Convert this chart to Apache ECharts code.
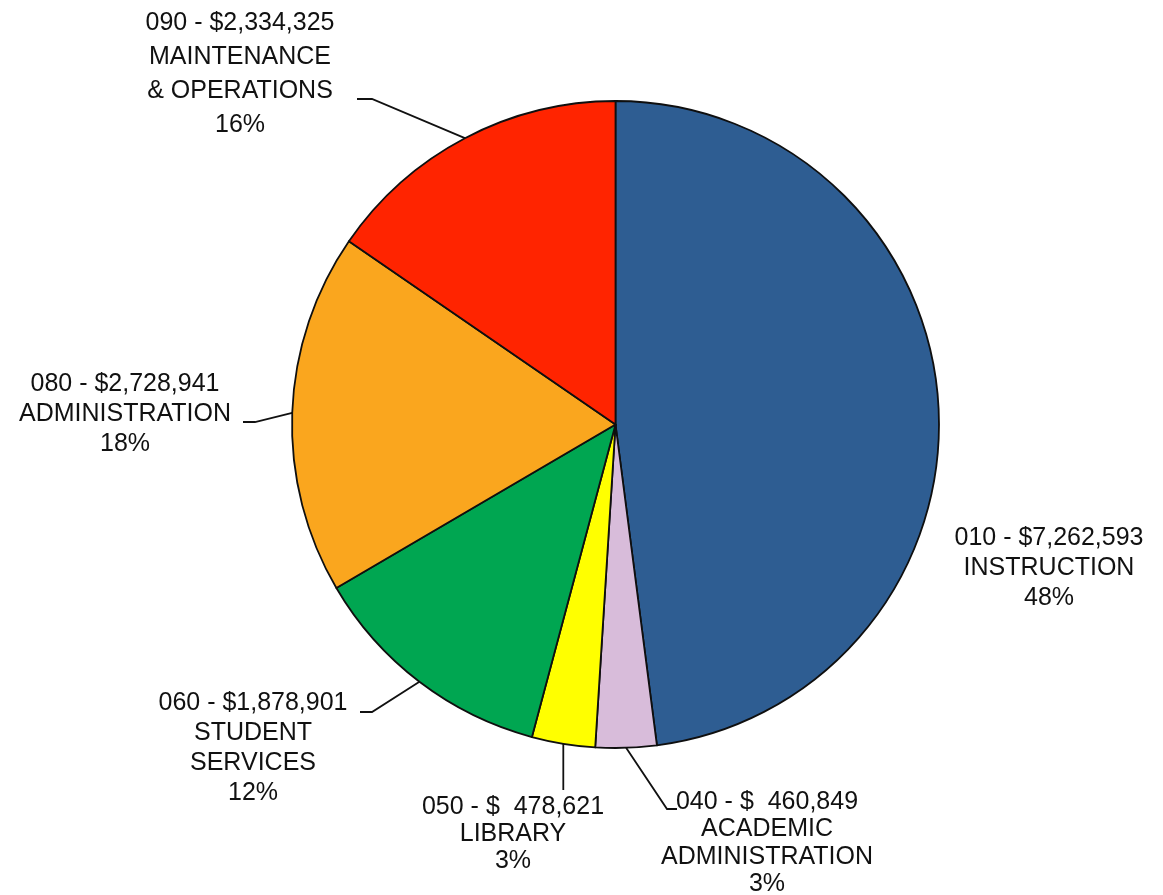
<!DOCTYPE html>
<html>
<head>
<meta charset="utf-8">
<script src="https://cdn.jsdelivr.net/npm/echarts@6/dist/echarts.min.js"></script>
<style>
  html, body { margin: 0; padding: 0; background: #ffffff; }
  #chart { width: 1163px; height: 895px; }
</style>
</head>
<body>
<div id="chart"></div>
<script>
// Budget by function code
const codes   = ['010', '040', '050', '060', '080', '090'];
const names   = ['INSTRUCTION', 'ACADEMIC\nADMINISTRATION', 'LIBRARY', 'STUDENT\nSERVICES', 'ADMINISTRATION', 'MAINTENANCE\n& OPERATIONS'];
const amounts = [7262593, 460849, 478621, 1878901, 2728941, 2334325];
const shares  = [48, 3, 3, 12, 18, 16];
const colors  = ['#2E5D92', '#D8BCDA', '#FFFF00', '#00A651', '#FAA61E', '#FF2400'];

// Where each label block sits, its line spacing and how its leader bends
const labelSpots = [
  { x: 1049, y: 568, lh: 30 },
  { x: 767,  y: 843, lh: 27.5, bend: [667, 809], end: [677, 809] },
  { x: 513,  y: 834, lh: 27,   drop: 790 },
  { x: 253,  y: 748, lh: 30,   bend: [372, 712], end: [360, 712] },
  { x: 125,  y: 414, lh: 30,   bend: [255, 422], end: [243, 422] },
  { x: 240,  y: 74,  lh: 34,   bend: [372, 99],  end: [357, 99] }
];

function money(v) {
  return '$' + v.toLocaleString('en-US').padStart(9, ' ');
}

const seriesData = amounts.map(function (v, i) {
  return {
    value: v,
    name: codes[i] + ' - ' + money(v) + '\n' + names[i] + '\n' + shares[i] + '%',
    itemStyle: { color: colors[i] },
    label: { lineHeight: labelSpots[i].lh },
    labelLine: { show: !!(labelSpots[i].bend || labelSpots[i].drop) }
  };
});

const chart = echarts.init(document.getElementById('chart'), null, { renderer: 'canvas' });
chart.setOption({
  backgroundColor: '#ffffff',
  animation: false,
  series: [{
    type: 'pie',
    center: [615.5, 424.5],
    radius: 323.5,
    startAngle: 90,
    clockwise: true,
    avoidLabelOverlap: false,
    data: seriesData,
    itemStyle: { borderColor: '#0f0f0f', borderWidth: 1.8 },
    label: {
      show: true,
      position: 'outside',
      formatter: '{b}',
      color: '#111111',
      fontFamily: '"Liberation Sans", Arial, sans-serif',
      fontSize: 25,
      align: 'center'
    },
    labelLine: {
      length: 20,
      length2: 10,
      lineStyle: { color: '#111111', width: 1.8 }
    },
    labelLayout: function (p) {
      const s = labelSpots[p.dataIndex];
      const out = { x: s.x, y: s.y, align: 'center', verticalAlign: 'middle' };
      const pts = p.labelLinePoints;
      if (pts && s.bend) {
        out.labelLinePoints = [pts[0], s.bend, s.end];
      } else if (pts && s.drop) {
        out.labelLinePoints = [pts[0], [pts[0][0], s.drop]];
      }
      return out;
    },
    emphasis: { disabled: true }
  }]
});
</script>
</body>
</html>
